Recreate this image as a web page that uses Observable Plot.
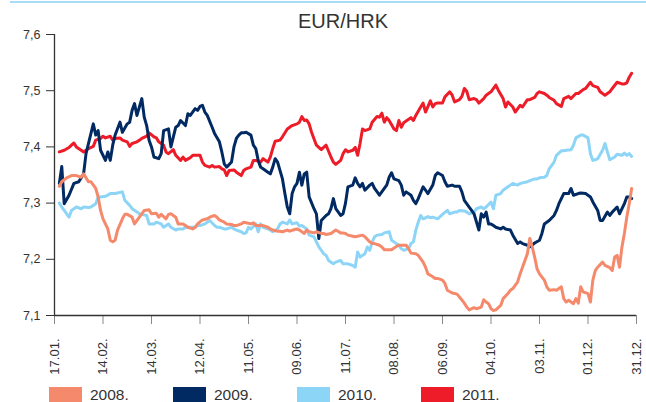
<!DOCTYPE html>
<html>
<head>
<meta charset="utf-8">
<script src="https://cdn.jsdelivr.net/npm/d3@7"></script>
<script src="https://cdn.jsdelivr.net/npm/@observablehq/plot@0.6"></script>
<style>
  html, body { margin: 0; padding: 0; background: #fff; }
  #wrap { position: relative; width: 646px; height: 402px; overflow: hidden; background: #fff; font-family: "Liberation Sans", Arial, sans-serif; color: #333; }
  #topline { position: absolute; left: 10px; top: 1px; width: 636px; height: 2px; background: #aadcf5; }
  #title { position: absolute; left: 0; top: 10px; width: 686px; text-align: center; font-size: 20px; color: #333; z-index: 2; }
  #chart { position: absolute; left: 0; top: 0; }
  #legend { position: absolute; left: 0; top: 387px; width: 646px; height: 20px; }
  .item { position: absolute; top: 0; height: 16px; }
  .sw { position: absolute; top: 0; left: 0; width: 33px; height: 16px; }
  .lab { position: absolute; top: -1px; left: 41px; font-size: 15.5px; line-height: 17px; color: #333; white-space: nowrap; }
</style>
</head>
<body>
<div id="wrap">
  <div id="topline"></div>
  <div id="title">EUR/HRK</div>
  <div id="chart"></div>
  <div id="legend"></div>
</div>
<script>
// x = trading-day index (0 = 17.01., 240 = 31.12.), y = EUR/HRK rate
const tickDays = [0, 20, 40, 60, 80, 100, 120, 140, 160, 180, 200, 220, 240];
const tickLabels = ["17.01.", "14.02.", "14.03.", "12.04.", "11.05.", "09.06.", "11.07.", "08.08.", "06.09.", "04.10.", "03.11.", "01.12.", "31.12."];
const yTicks = [7.1, 7.2, 7.3, 7.4, 7.5, 7.6];
const seriesNames = ["2008.", "2009.", "2010.", "2011."];
const seriesColors = ["#f5896b", "#012a63", "#8dd5f6", "#ed1c28"];

const s2008 = [[2,7.330],[3,7.338],[5,7.345],[7,7.349],[9,7.349],[11,7.346],[12,7.352],[14,7.338],[15,7.338],[17,7.326],[18,7.311],[19,7.287],[20,7.272],[22,7.254],[23,7.234],[24,7.231],[25,7.234],[26,7.252],[28,7.272],[29,7.280],[30,7.280],[32,7.275],[33,7.263],[35,7.275],[36,7.281],[37,7.287],[39,7.288],[40,7.281],[42,7.282],[43,7.275],[44,7.280],[46,7.272],[47,7.280],[48,7.281],[50,7.275],[51,7.263],[53,7.263],[54,7.260],[55,7.257],[57,7.254],[58,7.257],[59,7.263],[61,7.270],[63,7.272],[64,7.275],[66,7.278],[67,7.275],[68,7.270],[70,7.266],[71,7.263],[73,7.262],[74,7.260],[75,7.260],[77,7.263],[78,7.266],[79,7.265],[81,7.263],[82,7.265],[83,7.260],[85,7.260],[86,7.260],[88,7.257],[89,7.254],[90,7.252],[92,7.250],[93,7.250],[94,7.249],[96,7.252],[97,7.250],[99,7.253],[100,7.254],[101,7.252],[103,7.246],[104,7.252],[105,7.249],[107,7.247],[108,7.249],[110,7.246],[111,7.246],[112,7.244],[114,7.246],[115,7.249],[116,7.252],[118,7.247],[119,7.247],[120,7.246],[121,7.243],[123,7.241],[124,7.240],[125,7.241],[127,7.243],[128,7.240],[130,7.231],[131,7.228],[132,7.228],[134,7.225],[135,7.222],[136,7.217],[138,7.217],[139,7.217],[141,7.223],[142,7.225],[143,7.225],[145,7.225],[146,7.219],[147,7.211],[149,7.210],[150,7.207],[152,7.195],[153,7.186],[154,7.174],[156,7.169],[157,7.166],[158,7.166],[160,7.163],[161,7.157],[162,7.145],[164,7.140],[165,7.139],[166,7.138],[167,7.133],[169,7.122],[170,7.115],[171,7.110],[173,7.114],[174,7.112],[176,7.115],[177,7.128],[178,7.124],[179,7.121],[180,7.112],[181,7.109],[182,7.110],[184,7.118],[185,7.130],[187,7.139],[188,7.145],[189,7.148],[191,7.160],[192,7.174],[193,7.186],[195,7.210],[196,7.237],[197,7.222],[198,7.204],[199,7.183],[200,7.174],[202,7.163],[203,7.151],[204,7.145],[206,7.146],[207,7.145],[209,7.151],[210,7.130],[211,7.124],[212,7.127],[214,7.121],[215,7.130],[216,7.122],[217,7.151],[218,7.142],[220,7.139],[221,7.124],[222,7.163],[223,7.180],[224,7.186],[226,7.195],[227,7.189],[229,7.185],[230,7.180],[231,7.204],[232,7.207],[233,7.186],[234,7.222],[235,7.246],[236,7.275],[237,7.299],[238,7.326]];

const s2009 = [[2,7.335],[3,7.365],[4,7.299],[6,7.314],[8,7.335],[10,7.338],[12,7.352],[13,7.388],[14,7.406],[16,7.441],[17,7.421],[18,7.429],[19,7.394],[21,7.376],[22,7.391],[23,7.376],[24,7.403],[25,7.421],[27,7.444],[28,7.426],[30,7.441],[31,7.444],[32,7.465],[33,7.477],[34,7.456],[36,7.486],[37,7.453],[38,7.438],[39,7.412],[40,7.400],[41,7.382],[43,7.379],[44,7.388],[45,7.429],[47,7.432],[48,7.400],[50,7.435],[51,7.438],[52,7.447],[54,7.438],[55,7.459],[56,7.456],[58,7.468],[59,7.465],[60,7.472],[61,7.474],[62,7.462],[63,7.456],[65,7.435],[66,7.424],[68,7.409],[69,7.391],[70,7.370],[71,7.364],[73,7.373],[74,7.400],[75,7.415],[76,7.421],[77,7.425],[78,7.425],[79,7.426],[81,7.421],[82,7.403],[83,7.397],[84,7.376],[85,7.364],[86,7.361],[88,7.355],[89,7.352],[90,7.364],[91,7.379],[92,7.373],[94,7.343],[95,7.317],[96,7.293],[97,7.281],[98,7.317],[99,7.329],[100,7.335],[101,7.355],[102,7.332],[103,7.352],[104,7.355],[105,7.311],[107,7.290],[108,7.281],[109,7.237],[110,7.269],[112,7.278],[113,7.281],[114,7.290],[115,7.308],[116,7.290],[118,7.278],[119,7.281],[120,7.300],[121,7.329],[123,7.332],[124,7.345],[125,7.335],[126,7.329],[127,7.335],[128,7.323],[130,7.332],[131,7.335],[132,7.326],[134,7.314],[136,7.326],[137,7.332],[138,7.346],[139,7.354],[140,7.343],[142,7.340],[143,7.332],[144,7.314],[145,7.320],[147,7.314],[148,7.305],[149,7.299],[150,7.308],[152,7.329],[153,7.323],[154,7.317],[156,7.332],[157,7.349],[158,7.354],[160,7.349],[161,7.338],[162,7.330],[164,7.332],[165,7.330],[167,7.330],[168,7.320],[169,7.305],[171,7.293],[172,7.287],[173,7.281],[175,7.252],[176,7.281],[177,7.275],[178,7.284],[179,7.263],[180,7.263],[181,7.260],[182,7.257],[184,7.254],[185,7.257],[186,7.254],[188,7.252],[189,7.243],[191,7.228],[192,7.231],[193,7.228],[195,7.225],[196,7.222],[198,7.229],[200,7.234],[201,7.246],[202,7.263],[204,7.269],[206,7.278],[207,7.287],[208,7.299],[210,7.317],[212,7.317],[213,7.326],[214,7.314],[216,7.317],[217,7.318],[219,7.317],[221,7.311],[222,7.302],[224,7.287],[225,7.269],[226,7.269],[228,7.284],[229,7.278],[230,7.284],[232,7.293],[233,7.281],[235,7.299],[236,7.311],[237,7.311],[238,7.308]];

const s2010 = [[2,7.300],[3,7.293],[4,7.287],[6,7.275],[7,7.287],[8,7.290],[9,7.293],[11,7.290],[12,7.293],[14,7.292],[15,7.293],[17,7.299],[18,7.311],[19,7.311],[21,7.312],[22,7.314],[23,7.317],[25,7.317],[26,7.318],[28,7.320],[29,7.305],[31,7.296],[32,7.290],[34,7.284],[35,7.281],[36,7.280],[38,7.278],[39,7.263],[41,7.263],[42,7.266],[44,7.263],[45,7.257],[47,7.263],[48,7.257],[50,7.252],[51,7.254],[53,7.254],[54,7.257],[56,7.257],[58,7.257],[59,7.260],[60,7.260],[62,7.263],[63,7.266],[64,7.269],[66,7.260],[67,7.257],[68,7.257],[70,7.254],[71,7.254],[73,7.257],[74,7.254],[75,7.252],[77,7.249],[78,7.246],[79,7.247],[80,7.257],[81,7.254],[83,7.263],[84,7.249],[85,7.263],[86,7.257],[88,7.254],[89,7.252],[90,7.249],[92,7.254],[93,7.263],[94,7.266],[96,7.263],[97,7.270],[98,7.263],[100,7.265],[101,7.259],[102,7.260],[104,7.254],[105,7.243],[107,7.240],[108,7.231],[109,7.222],[111,7.210],[112,7.207],[113,7.198],[115,7.192],[116,7.195],[118,7.198],[119,7.192],[120,7.192],[121,7.192],[123,7.189],[124,7.186],[125,7.213],[126,7.204],[128,7.210],[129,7.222],[130,7.216],[131,7.231],[132,7.240],[133,7.243],[135,7.244],[136,7.247],[138,7.249],[139,7.234],[140,7.231],[142,7.225],[143,7.219],[144,7.216],[146,7.219],[147,7.228],[148,7.231],[149,7.252],[150,7.266],[151,7.278],[152,7.272],[154,7.276],[155,7.274],[156,7.275],[158,7.272],[159,7.276],[160,7.280],[162,7.287],[163,7.281],[165,7.284],[166,7.284],[167,7.287],[169,7.286],[170,7.284],[171,7.281],[173,7.284],[174,7.290],[176,7.293],[177,7.290],[178,7.293],[180,7.302],[181,7.290],[182,7.314],[184,7.317],[185,7.323],[187,7.329],[188,7.332],[189,7.335],[191,7.332],[192,7.335],[193,7.336],[195,7.338],[196,7.340],[198,7.343],[199,7.343],[200,7.345],[202,7.346],[203,7.349],[204,7.361],[206,7.373],[207,7.385],[209,7.393],[210,7.393],[211,7.394],[213,7.395],[214,7.403],[215,7.416],[217,7.421],[218,7.421],[220,7.416],[221,7.388],[222,7.376],[223,7.377],[224,7.379],[226,7.394],[227,7.406],[228,7.391],[229,7.377],[231,7.382],[232,7.387],[234,7.385],[235,7.389],[236,7.385],[237,7.388],[238,7.383]];

const s2011 = [[2,7.391],[4,7.394],[6,7.399],[8,7.407],[9,7.400],[11,7.394],[12,7.391],[14,7.397],[16,7.401],[17,7.412],[19,7.415],[20,7.419],[21,7.416],[23,7.419],[24,7.412],[25,7.415],[27,7.416],[28,7.412],[30,7.409],[31,7.401],[32,7.406],[34,7.409],[35,7.412],[36,7.415],[38,7.419],[39,7.425],[41,7.418],[42,7.416],[43,7.409],[45,7.403],[46,7.391],[47,7.388],[49,7.395],[50,7.385],[52,7.376],[53,7.382],[54,7.376],[56,7.381],[57,7.385],[58,7.385],[60,7.385],[61,7.373],[62,7.367],[64,7.364],[65,7.367],[66,7.364],[68,7.365],[69,7.361],[70,7.359],[71,7.349],[72,7.358],[74,7.359],[75,7.355],[77,7.349],[78,7.358],[79,7.361],[81,7.364],[82,7.376],[83,7.376],[85,7.373],[86,7.379],[88,7.373],[89,7.382],[90,7.397],[91,7.410],[93,7.412],[94,7.418],[96,7.432],[97,7.435],[98,7.438],[100,7.441],[101,7.444],[102,7.454],[103,7.447],[104,7.448],[105,7.441],[106,7.426],[108,7.403],[109,7.399],[110,7.395],[111,7.399],[112,7.403],[114,7.382],[115,7.373],[116,7.369],[118,7.376],[119,7.388],[120,7.395],[121,7.391],[123,7.394],[124,7.399],[125,7.385],[126,7.406],[127,7.432],[128,7.429],[130,7.432],[131,7.444],[133,7.454],[134,7.453],[135,7.460],[136,7.444],[137,7.452],[138,7.447],[140,7.432],[141,7.429],[142,7.447],[143,7.435],[144,7.443],[145,7.446],[147,7.452],[148,7.447],[149,7.456],[151,7.471],[152,7.478],[153,7.462],[155,7.482],[156,7.471],[157,7.477],[158,7.478],[160,7.478],[161,7.489],[163,7.498],[164,7.492],[165,7.480],[167,7.484],[168,7.490],[169,7.504],[170,7.499],[171,7.484],[173,7.486],[174,7.484],[175,7.478],[177,7.486],[178,7.492],[179,7.495],[180,7.498],[182,7.510],[183,7.501],[185,7.486],[186,7.471],[187,7.480],[189,7.471],[190,7.462],[192,7.474],[193,7.471],[195,7.484],[196,7.484],[198,7.488],[199,7.495],[200,7.498],[202,7.495],[203,7.492],[204,7.488],[206,7.483],[207,7.477],[209,7.472],[210,7.486],[212,7.490],[213,7.486],[215,7.495],[216,7.495],[218,7.502],[219,7.504],[221,7.515],[222,7.509],[224,7.506],[225,7.498],[227,7.492],[229,7.498],[230,7.504],[232,7.515],[234,7.512],[235,7.512],[236,7.514],[237,7.524],[238,7.531]];

const allSeries = [s2008, s2009, s2010, s2011];
const drawOrder = [3, 2, 1, 0];

const labelByDay = new Map(tickDays.map((d, i) => [d, tickLabels[i]]));

const lineMarks = drawOrder.map(i =>
  Plot.line(allSeries[i], {
    x: d => d[0], y: d => d[1],
    stroke: seriesColors[i], strokeWidth: 3,
    strokeLinejoin: "round", strokeLinecap: "round"
  })
);

const chart = Plot.plot({
  width: 646,
  height: 380,
  marginTop: 34,
  marginBottom: 65,
  marginLeft: 54,
  marginRight: 10,
  style: { fontFamily: "'Liberation Sans', Arial, sans-serif", fontSize: "12.5px", color: "#333", background: "transparent", overflow: "visible" },
  x: {
    domain: [0, 240],
    ticks: tickDays,
    tickFormat: d => labelByDay.get(d),
    tickRotate: -90,
    tickSize: 9,
    tickPadding: 14,
    label: null
  },
  y: {
    domain: [7.1, 7.6],
    ticks: yTicks,
    tickFormat: d => d.toFixed(1).replace(".", ","),
    tickSize: 8,
    tickPadding: 6,
    label: null
  },
  marks: [
    Plot.ruleY([7.1], { stroke: "#333", strokeWidth: 1.3 }),
    Plot.ruleX([0], { stroke: "#333", strokeWidth: 1.3 }),
    ...lineMarks
  ]
});
document.getElementById("chart").appendChild(chart);

// grey x ticks, dark y ticks; slightly larger x labels
d3.select(chart).selectAll('[aria-label="x-axis tick"] path, [aria-label="x-axis tick"]').attr("stroke", "#888");
d3.select(chart).selectAll('[aria-label="y-axis tick"]').attr("stroke", "#333");
d3.select(chart).selectAll('[aria-label="x-axis tick label"]').attr("font-size", "13px");

// legend
const legend = document.getElementById("legend");
const legendX = [49, 173, 297, 421];
seriesNames.forEach((name, i) => {
  const item = document.createElement("div");
  item.className = "item";
  item.style.left = legendX[i] + "px";
  item.innerHTML = `<div class="sw" style="background:${seriesColors[i]}"></div><div class="lab">${name}</div>`;
  legend.appendChild(item);
});
</script>
</body>
</html>
